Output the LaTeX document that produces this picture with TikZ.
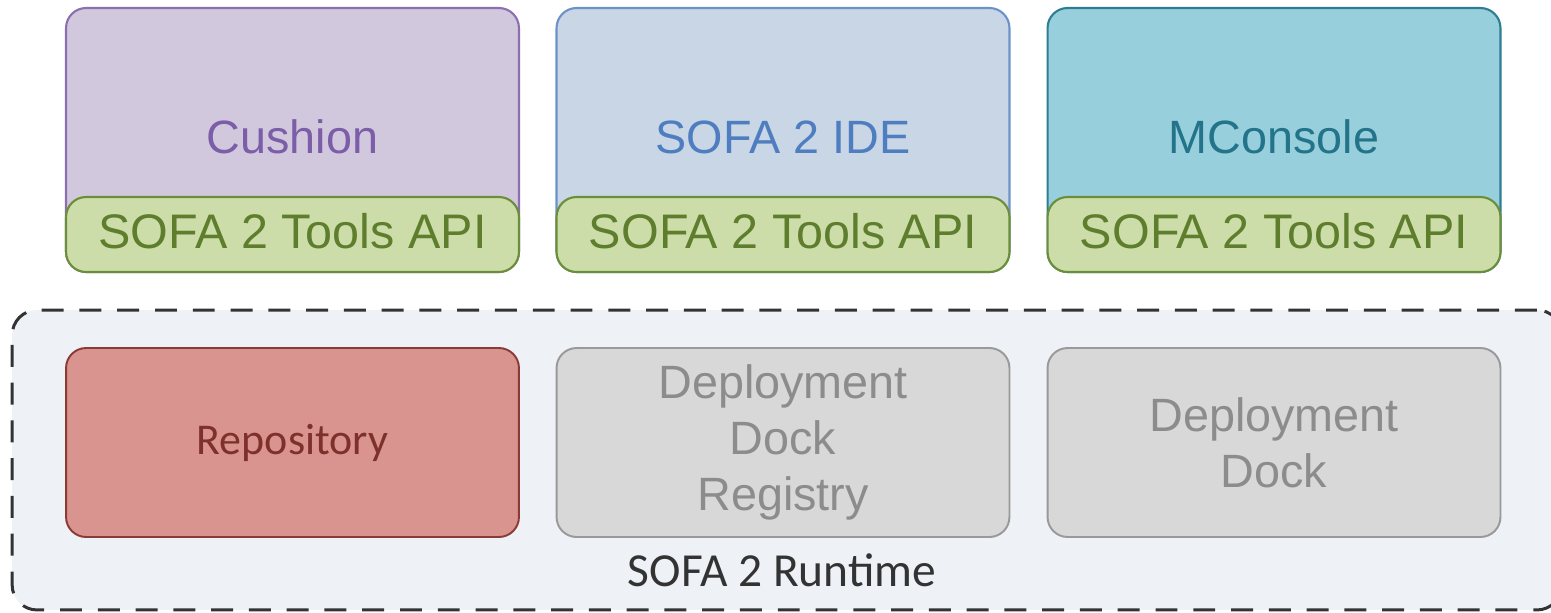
\documentclass[tikz,border=0pt]{standalone}
\usepackage{fontspec}
\setmainfont{Liberation Sans}
\newfontfamily\calibrifont{Carlito}
\usepackage{tikz}

\definecolor{cushionfill}{HTML}{D1C8DE}
\definecolor{cushionline}{HTML}{8B6FAF}
\definecolor{cushiontext}{HTML}{7B5EA7}
\definecolor{idefill}{HTML}{C9D6E5}
\definecolor{ideline}{HTML}{6C93C7}
\definecolor{idetext}{HTML}{4E7EC0}
\definecolor{consolefill}{HTML}{98CFDD}
\definecolor{consoleline}{HTML}{2E7D92}
\definecolor{consoletext}{HTML}{23748A}
\definecolor{apifill}{HTML}{CDDDA9}
\definecolor{apiline}{HTML}{6B8E3A}
\definecolor{apitext}{HTML}{5E7E2E}
\definecolor{repofill}{HTML}{D9948F}
\definecolor{repoline}{HTML}{8A3B35}
\definecolor{repotext}{HTML}{7E302B}
\definecolor{greyfill}{HTML}{D8D8D8}
\definecolor{greyline}{HTML}{999999}
\definecolor{greytext}{HTML}{8C8C8C}
\definecolor{runtimefill}{HTML}{EEF1F6}
\definecolor{runtimeline}{HTML}{333333}

\tikzset{
	toolbox/.style={draw, rounded corners=0.4cm, line width=1.2pt, inner sep=0pt,
		minimum width=9.06cm, minimum height=5.28cm,
		font={\fontsize{26.6}{31.8}\selectfont}},
	apibox/.style={draw=apiline, fill=apifill, text=apitext, rounded corners=0.4cm,
		line width=1.2pt, inner sep=0pt, minimum width=9.06cm, minimum height=1.5cm,
		text depth=4pt, font={\fontsize{27.6}{32}\selectfont}},
	partbox/.style={draw, rounded corners=0.4cm, line width=1.1pt, inner sep=0pt,
		minimum width=9.06cm, minimum height=3.78cm, align=center,
		font={\fontsize{26.6}{31.8}\selectfont}}
}

\begin{document}
\begin{tikzpicture}[x=0.02cm, y=-0.02cm]
	\clip (0,0) rectangle (1551,612);
	%Tools
	\node [toolbox, draw=cushionline, fill=cushionfill, text=cushiontext] (cushion) at (292.5,140) {};
	\node [toolbox, draw=ideline, fill=idefill, text=idetext] (ide) at (783,140) {};
	\node [toolbox, draw=consoleline, fill=consolefill, text=consoletext] (mconsole) at (1274,140) {};
	\node [text=cushiontext, font={\fontsize{26.6}{31.8}\selectfont}] (cushiontitle) at (292.5,137) {Cushion};
	\node [text=idetext, font={\fontsize{26.6}{31.8}\selectfont}] (idetitle) at (783,137) {SOFA 2 IDE};
	\node [text=consoletext, font={\fontsize{26.6}{31.8}\selectfont}] (mconsoletitle) at (1274,137) {MConsole};
	%Tools API
	\node [apibox] (cushionapi) at (292.5,234.5) {SOFA 2 Tools API};
	\node [apibox] (ideapi) at (783,234.5) {SOFA 2 Tools API};
	\node [apibox] (mconsoleapi) at (1274,234.5) {SOFA 2 Tools API};
	%Runtime
	\node [draw=runtimeline, fill=runtimefill, line width=1.7pt, dash pattern=on 12.5pt off 9pt,
		rounded corners=0.5cm, minimum width=31cm, minimum height=6cm] (runtime) at (787,460) {};
	\node [text=runtimeline, font={\calibrifont\fontsize{27}{32}\selectfont}] (runtimelabel) at (782,570) {SOFA 2 Runtime};
	%Runtime parts
	\node [partbox, draw=repoline, fill=repofill, text=repotext,
		font={\calibrifont\fontsize{25}{30}\selectfont}] (repository) at (292.5,442.5) {Repository};
	\node [partbox, draw=greyline, fill=greyfill, text=greytext] (registry) at (783,442.5) {Deployment\\Dock\\Registry};
	\node [partbox, draw=greyline, fill=greyfill, text=greytext] (dock) at (1274,442.5) {Deployment\\Dock};
\end{tikzpicture}
\end{document}
